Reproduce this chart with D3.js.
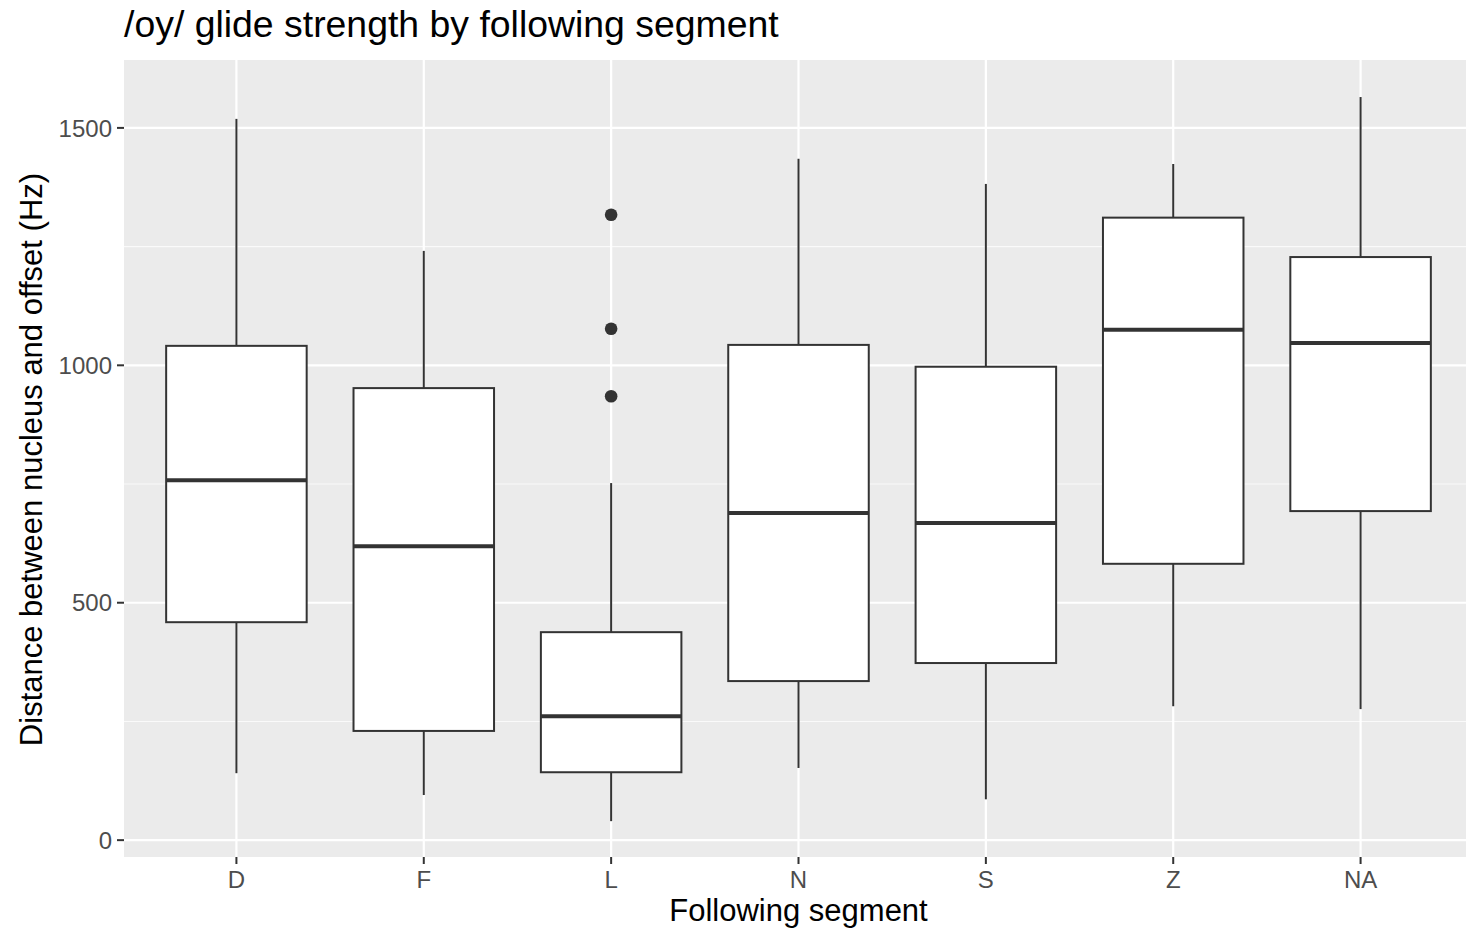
<!DOCTYPE html>
<html>
<head>
<meta charset="utf-8">
<script src="https://cdn.jsdelivr.net/npm/d3@7"></script>
<style>
  html, body { margin: 0; padding: 0; background: #fff; }
  svg { display: block; font-family: "Liberation Sans", Arial, Helvetica, sans-serif; }
</style>
</head>
<body>
<svg id="chart" width="1466" height="930"></svg>
<script>
// Following-segment categories
const categories = ["D", "F", "L", "N", "S", "Z", "NA"];
// Five-number summaries per category (Hz)
const whiskerLow  = [141,  95,  40, 152,  86, 282, 276];
const q1          = [459, 230, 143, 335, 373, 582, 693];
const medians     = [758, 619, 261, 689, 668, 1075, 1047];
const q3          = [1041, 952, 438, 1043, 997, 1311, 1228];
const whiskerHigh = [1519, 1241, 752, 1435, 1382, 1424, 1565];
// Outlying observations
const outlierCats = ["L", "L", "L"];
const outlierVals = [1317, 1077, 935];
// Axis ticks
const yTicks = [0, 500, 1000, 1500];
const yMinor = [250, 750, 1250];

const svg = d3.select("#chart");
const panel = { left: 124, top: 60, right: 1473, bottom: 857 };

// discrete x positions with 0.6-unit expansion on each side
const x = d3.scalePoint()
  .domain(categories)
  .range([panel.left, panel.right])
  .padding(0.6);
const step = x.step();
const boxW = step * 0.75;

const y = d3.scaleLinear().domain([-35.5, 1643]).range([panel.bottom, panel.top]);

// panel background
svg.append("rect")
  .attr("x", panel.left).attr("y", panel.top)
  .attr("width", panel.right - panel.left).attr("height", panel.bottom - panel.top)
  .attr("fill", "#EBEBEB");

const grid = svg.append("g");
yMinor.forEach(v => grid.append("line")
  .attr("x1", panel.left).attr("x2", panel.right)
  .attr("y1", y(v)).attr("y2", y(v))
  .attr("stroke", "#fff").attr("stroke-width", 1.1).attr("opacity", 0.75));
yTicks.forEach(v => grid.append("line")
  .attr("x1", panel.left).attr("x2", panel.right)
  .attr("y1", y(v)).attr("y2", y(v))
  .attr("stroke", "#fff").attr("stroke-width", 2.2));
categories.forEach(c => grid.append("line")
  .attr("x1", x(c)).attr("x2", x(c))
  .attr("y1", panel.top).attr("y2", panel.bottom)
  .attr("stroke", "#fff").attr("stroke-width", 2.2));

// boxes
const data = categories.map((c, i) => ({
  c, lo: whiskerLow[i], q1: q1[i], med: medians[i], q3: q3[i], hi: whiskerHigh[i]
}));
const stroke = "#333333";
const g = svg.append("g");
data.forEach(d => {
  const xc = x(d.c);
  g.append("line").attr("x1", xc).attr("x2", xc)
    .attr("y1", y(d.hi)).attr("y2", y(d.q3))
    .attr("stroke", stroke).attr("stroke-width", 2);
  g.append("line").attr("x1", xc).attr("x2", xc)
    .attr("y1", y(d.q1)).attr("y2", y(d.lo))
    .attr("stroke", stroke).attr("stroke-width", 2);
  g.append("rect")
    .attr("x", xc - boxW / 2).attr("y", y(d.q3))
    .attr("width", boxW).attr("height", y(d.q1) - y(d.q3))
    .attr("fill", "#fff").attr("stroke", stroke).attr("stroke-width", 2);
  g.append("line")
    .attr("x1", xc - boxW / 2).attr("x2", xc + boxW / 2)
    .attr("y1", y(d.med)).attr("y2", y(d.med))
    .attr("stroke", stroke).attr("stroke-width", 4);
});
outlierVals.forEach((v, i) => g.append("circle")
  .attr("cx", x(outlierCats[i])).attr("cy", y(v)).attr("r", 6.3)
  .attr("fill", stroke));

function label(tx, ty, txt, size, anchor, color, rot) {
  return svg.append("text")
    .attr("transform", `translate(${tx},${ty})${rot ? ` rotate(${rot})` : ""}`)
    .attr("text-anchor", anchor).attr("font-size", size).attr("fill", color)
    .text(txt);
}

// y axis ticks and labels
const axisCol = "#4D4D4D";
yTicks.forEach(v => {
  svg.append("line").attr("x1", panel.left - 7).attr("x2", panel.left)
    .attr("y1", y(v)).attr("y2", y(v)).attr("stroke", "#333").attr("stroke-width", 2);
  label(panel.left - 12, y(v), v, 24, "end", axisCol).attr("dy", "0.36em");
});
// x axis ticks and labels
categories.forEach(c => {
  svg.append("line").attr("x1", x(c)).attr("x2", x(c))
    .attr("y1", panel.bottom).attr("y2", panel.bottom + 7)
    .attr("stroke", "#333").attr("stroke-width", 2);
  label(x(c), panel.bottom + 31, c, 24, "middle", axisCol);
});

// titles
label((panel.left + panel.right) / 2, 921, "Following segment", 31, "middle", "#000");
label(42, (panel.top + panel.bottom) / 2 + 1, "Distance between nucleus and offset (Hz)", 31, "middle", "#000", -90);
label(panel.left, 37, "/oy/ glide strength by following segment", 37.4, "start", "#000");
</script>
</body>
</html>
